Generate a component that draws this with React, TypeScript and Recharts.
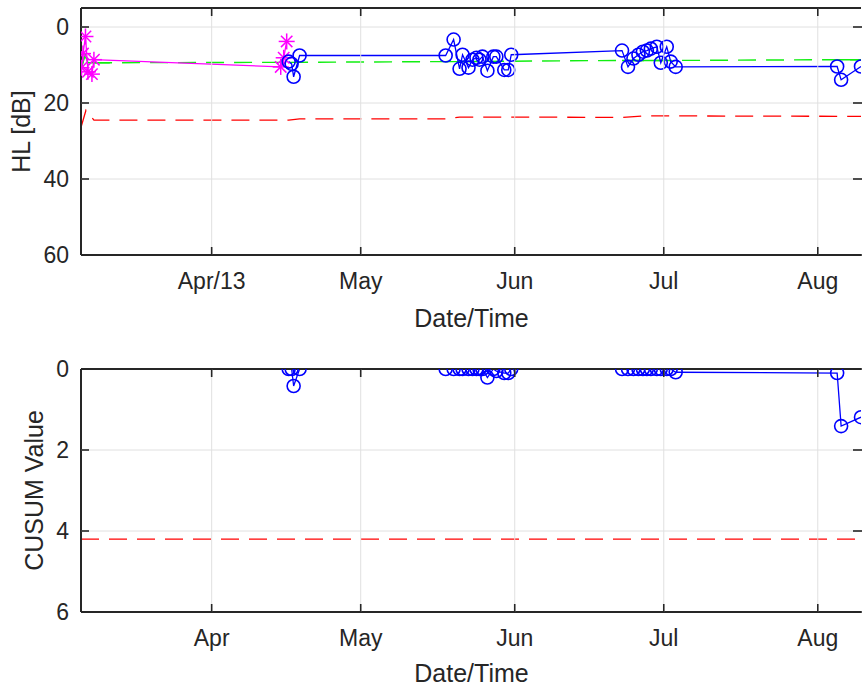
import React from 'react';
import { ComposedChart, Line, XAxis, YAxis } from 'recharts';

// x values are day-of-year (Jan 1 = 0), 2013
const X_DOMAIN = [63.7, 220.7];
const X_TICKS = [90, 120, 151, 181, 212];
const TOP_X_LABELS = ['Apr/13', 'May', 'Jun', 'Jul', 'Aug'];
const BOTTOM_X_LABELS = ['Apr', 'May', 'Jun', 'Jul', 'Aug'];
const HL_TICKS = [0, 20, 40, 60];
const CUSUM_TICKS = [0, 2, 4, 6];

// HL measurements (blue circles)
const hlDays = [
  105.5, 106.1, 106.5, 107.7,
  137.1, 138.7, 139.9, 140.5, 141.7, 142.5, 143.3, 143.9, 144.5, 145.5, 146.7, 147.3, 148.9, 149.7, 150.3,
  172.6, 173.8, 174.9, 175.9, 176.8, 177.6, 178.4, 179.6, 180.4, 181.6, 182.4, 183.4,
  215.9, 216.7, 220.7,
];
const hlValues = [
  9.1, 9.7, 13.1, 7.5,
  7.5, 3.3, 11.0, 7.3, 10.7, 8.6, 8.1, 8.6, 7.8, 11.5, 7.8, 7.8, 11.3, 11.3, 7.3,
  6.2, 10.5, 8.3, 7.3, 6.5, 6.2, 5.7, 5.2, 9.4, 5.2, 9.1, 10.5,
  10.4, 13.9, 10.4,
];
const cusumValues = [
  0, 0, 0.42, 0,
  0, 0, 0, 0, 0, 0, 0, 0, 0, 0.21, 0, 0.05, 0.1, 0.1, 0,
  0, 0, 0, 0, 0, 0, 0, 0, 0, 0, 0, 0.08,
  0.1, 1.41, 1.19,
];

// training measurements (magenta asterisks)
const trainDays = [63.8, 64.1, 64.6, 65.1, 65.9, 66.3, 103.9, 104.5, 105.1];
const trainValues = [10.7, 7.0, 2.5, 11.8, 12.4, 8.6, 10.5, 8.1, 3.8];

// baseline (green)
const baseDays = [63.8, 64.5, 65.1, 69.5, 105.5, 137.1, 150.3, 172.6, 183.4, 215.9, 220.7];
const baseValues = [10.7, 7.3, 9.4, 9.4, 9.3, 9.1, 9.0, 8.8, 8.8, 8.6, 8.6];
const baseSolidDays = [63.8, 64.5, 65.1, 69.5, 69.6, 137.1, 143.5, 143.6, 172.6, 181.0, 181.1, 215.9, 220.7];
const baseSolidValues = [10.7, 7.3, 9.4, 9.4, null, 9.1, 9.1, null, 8.8, 8.8, null, 8.6, 8.6];

// HL alarm limit (red)
const limitDays = [63.7, 64.7, 66.3, 105.5, 107.7, 137.1, 139.9, 150.3, 172.6, 176.8, 183.4, 215.9, 220.7];
const limitValues = [26.4, 21.9, 24.5, 24.5, 24.2, 24.2, 23.7, 23.7, 23.8, 23.4, 23.4, 23.5, 23.5];

// CUSUM threshold
const cusumLimitDays = [63.7, 220.7];
const cusumLimitValues = [4.2, 4.2];

const zip = (xs: number[], ys: (number | null)[]) => xs.map((d, i) => ({ d, v: ys[i] }));

const AXIS = '#262626';
const GRID = '#e0e0e0';
const FONT = "'Liberation Sans', Arial, Helvetica, sans-serif";
const TICK_FS = 23;
const LABEL_FS = 25;
const PLOT_W = 781;

const BottomTick = (props: any) => {
  const { x, y, payload, labels, gridLen } = props;
  const i = X_TICKS.indexOf(payload.value);
  return (
    <g>
      <line x1={x} x2={x} y1={y} y2={y - gridLen} stroke={GRID} strokeWidth={1} />
      <line x1={x} x2={x} y1={y} y2={y - 8} stroke={AXIS} strokeWidth={1.6} />
      <text x={x} y={y + 34} textAnchor="middle" fontSize={TICK_FS} fontFamily={FONT} fill={AXIS}>
        {labels[i]}
      </text>
    </g>
  );
};

const TopTick = (props: any) => {
  const { x, y } = props;
  return <line x1={x} x2={x} y1={y} y2={y + 8} stroke={AXIS} strokeWidth={1.6} />;
};

const LeftTick = (props: any) => {
  const { x, y, payload, bounds } = props;
  const onEdge = bounds.includes(payload.value);
  return (
    <g>
      {!onEdge && <line x1={x} x2={x + PLOT_W} y1={y} y2={y} stroke={GRID} strokeWidth={1} />}
      <line x1={x} x2={x + 8} y1={y} y2={y} stroke={AXIS} strokeWidth={1.6} />
      <text x={x - 12} y={y} dy="0.36em" textAnchor="end" fontSize={TICK_FS} fontFamily={FONT} fill={AXIS}>
        {payload.value}
      </text>
    </g>
  );
};

const RightTick = (props: any) => {
  const { x, y } = props;
  return <line x1={x - 8} x2={x + 1} y1={y} y2={y} stroke={AXIS} strokeWidth={1.6} />;
};

const circleDot = (color: string) => (p: any) => {
  if (p.cx == null || p.cy == null) return <g key={`n${p.index}`} />;
  return <circle key={`c${p.index}`} cx={p.cx} cy={p.cy} r={6.5} fill="none" stroke={color} strokeWidth={1.6} />;
};

const starDot = (p: any) => {
  const { cx, cy } = p;
  if (cx == null || cy == null) return <g key={`n${p.index}`} />;
  const a = 8;
  const b = 5.7;
  return (
    <g key={`s${p.index}`} stroke="#ff00ff" strokeWidth={1.5}>
      <line x1={cx - a} x2={cx + a} y1={cy} y2={cy} />
      <line x1={cx} x2={cx} y1={cy - a} y2={cy + a} />
      <line x1={cx - b} x2={cx + b} y1={cy - b} y2={cy + b} />
      <line x1={cx - b} x2={cx + b} y1={cy + b} y2={cy - b} />
    </g>
  );
};

const xAxes = (labels: string[], axisH: number, gridLen: number) => [
  <XAxis
    key="xb"
    dataKey="d"
    type="number"
    domain={X_DOMAIN}
    ticks={X_TICKS}
    interval={0}
    allowDataOverflow
    tickSize={0}
    tickMargin={0}
    tickLine={false}
    axisLine={{ stroke: AXIS, strokeWidth: 2 }}
    tick={<BottomTick labels={labels} gridLen={gridLen} />}
    height={axisH}
  />,
  <XAxis
    key="xt"
    xAxisId="top"
    orientation="top"
    dataKey="d"
    type="number"
    domain={X_DOMAIN}
    ticks={X_TICKS}
    interval={0}
    allowDataOverflow
    tickSize={0}
    tickMargin={0}
    tickLine={false}
    axisLine={{ stroke: AXIS, strokeWidth: 2 }}
    tick={<TopTick />}
    height={1}
  />,
];

const yAxes = (domain: number[], ticks: number[]) => [
  <YAxis
    key="yl"
    type="number"
    domain={domain}
    ticks={ticks}
    interval={0}
    reversed
    allowDataOverflow
    width={81}
    tickSize={0}
    tickMargin={0}
    tickLine={false}
    axisLine={{ stroke: AXIS, strokeWidth: 2 }}
    tick={<LeftTick bounds={[ticks[0], ticks[ticks.length - 1]].filter((t) => t === domain[0] || t === domain[1])} />}
  />,
  <YAxis
    key="yr"
    yAxisId="right"
    orientation="right"
    type="number"
    domain={domain}
    ticks={ticks}
    interval={0}
    reversed
    allowDataOverflow
    width={1}
    tickSize={0}
    tickMargin={0}
    tickLine={false}
    axisLine={false}
    tick={<RightTick />}
  />,
];

// invisible series that binds the top and right (box) axes
const boxAnchor = (data: { d: number; v: number | null }[]) => (
  <Line
    xAxisId="top"
    yAxisId="right"
    data={data}
    dataKey="v"
    stroke="none"
    dot={false}
    activeDot={false}
    legendType="none"
    isAnimationActive={false}
  />
);

export default function App() {
  const limit = zip(limitDays, limitValues);
  const cusumLimit = zip(cusumLimitDays, cusumLimitValues);
  return (
    <div style={{ position: 'absolute', left: 0, top: 0, width: 862, height: 691, background: '#fff', overflow: 'hidden' }}>
      <div style={{ position: 'absolute', left: 0, top: 0 }}>
        <ComposedChart width={862} height={345} margin={{ top: 7, right: 0, bottom: 0, left: 0 }}>
          {xAxes(TOP_X_LABELS, 90, 247)}
          {yAxes([-5, 60], HL_TICKS)}
          {boxAnchor(limit)}
          <Line
            data={limit}
            dataKey="v"
            type="linear"
            stroke="#ff0000"
            strokeWidth={1.3}
            strokeDasharray="18 10"
            dot={false}
            activeDot={false}
            isAnimationActive={false}
          />
          <Line
            data={zip(baseDays, baseValues)}
            dataKey="v"
            type="linear"
            stroke="#11ee11"
            strokeWidth={1.4}
            strokeDasharray="18 10"
            dot={false}
            activeDot={false}
            isAnimationActive={false}
          />
          <Line
            data={zip(baseSolidDays, baseSolidValues)}
            dataKey="v"
            type="linear"
            stroke="#11ee11"
            strokeWidth={1.4}
            dot={false}
            activeDot={false}
            connectNulls={false}
            isAnimationActive={false}
          />
          <Line
            data={zip(trainDays, trainValues)}
            dataKey="v"
            type="linear"
            stroke="#ff00ff"
            strokeWidth={1.3}
            dot={starDot}
            activeDot={false}
            isAnimationActive={false}
          />
          <Line
            data={zip(hlDays, hlValues)}
            dataKey="v"
            type="linear"
            stroke="#0000ff"
            strokeWidth={1.3}
            dot={circleDot('#0000ff')}
            activeDot={false}
            isAnimationActive={false}
          />
          <text
            x={29.5}
            y={131.5}
            transform="rotate(-90, 29.5, 131.5)"
            textAnchor="middle"
            fontSize={LABEL_FS}
            fontFamily={FONT}
            fill={AXIS}
          >
            HL [dB]
          </text>
          <text x={471.5} y={327} textAnchor="middle" fontSize={LABEL_FS} fontFamily={FONT} fill={AXIS}>
            Date/Time
          </text>
        </ComposedChart>
      </div>
      <div style={{ position: 'absolute', left: 0, top: 345 }}>
        <ComposedChart width={862} height={346} margin={{ top: 23, right: 0, bottom: 0, left: 0 }}>
          {xAxes(BOTTOM_X_LABELS, 79, 243)}
          {yAxes([0, 6], CUSUM_TICKS)}
          {boxAnchor(cusumLimit)}
          <Line
            data={cusumLimit}
            dataKey="v"
            type="linear"
            stroke="#ff0000"
            strokeWidth={1.3}
            strokeDasharray="18 10"
            dot={false}
            activeDot={false}
            isAnimationActive={false}
          />
          <Line
            data={zip(hlDays, cusumValues)}
            dataKey="v"
            type="linear"
            stroke="#0000ff"
            strokeWidth={1.3}
            dot={circleDot('#0000ff')}
            activeDot={false}
            isAnimationActive={false}
          />
          <text
            x={43}
            y={145.5}
            transform="rotate(-90, 43, 145.5)"
            textAnchor="middle"
            fontSize={LABEL_FS}
            fontFamily={FONT}
            fill={AXIS}
          >
            CUSUM Value
          </text>
          <text x={471.5} y={337} textAnchor="middle" fontSize={LABEL_FS} fontFamily={FONT} fill={AXIS}>
            Date/Time
          </text>
        </ComposedChart>
      </div>
    </div>
  );
}
